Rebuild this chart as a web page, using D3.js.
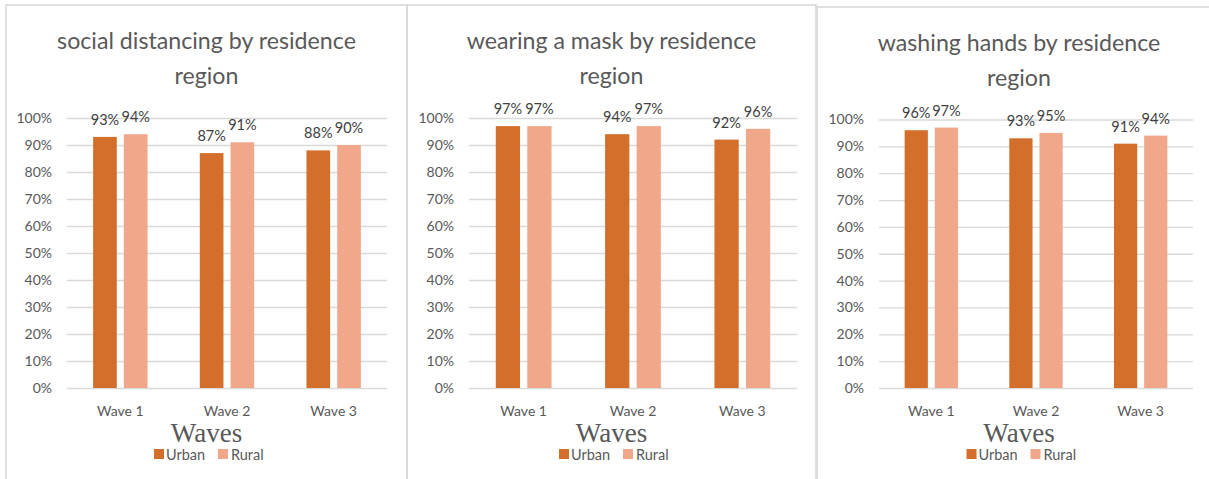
<!DOCTYPE html>
<html><head><meta charset="utf-8">
<script src="https://cdn.jsdelivr.net/npm/d3@7"></script>
<style>body{margin:0;background:#fff} svg text{font-family:Lato,"Open Sans",sans-serif}</style>
</head><body><svg id="c" width="1209" height="479"></svg>
<script>
// ---- data ----
const categories = ["Wave 1", "Wave 2", "Wave 3"];
const seriesNames = ["Urban", "Rural"];
const titleLines = [
  ["social distancing by residence", "region"],
  ["wearing a mask by residence", "region"],
  ["washing hands by residence", "region"]
];
const socialUrban = [0.93, 0.87, 0.88];
const socialRural = [0.94, 0.91, 0.90];
const maskUrban = [0.97, 0.94, 0.92];
const maskRural = [0.97, 0.97, 0.96];
const handsUrban = [0.96, 0.93, 0.91];
const handsRural = [0.97, 0.95, 0.94];
const yTicks = [0, 0.1, 0.2, 0.3, 0.4, 0.5, 0.6, 0.7, 0.8, 0.9, 1.0];
const xAxisTitle = "Waves";

const panelData = [
  [socialUrban, socialRural],
  [maskUrban, maskRural],
  [handsUrban, handsRural]
];

// ---- layout ----
const colors = ["#D36F2B", "#F1A88A"];
const layout = [
  {bx: 6, by: 5, bw: 401, x0: 67, x1: 387, yTop: 118, dy: 0},
  {bx: 407, by: 5, bw: 409, x0: 469, x1: 797, yTop: 118, dy: 0},
  {bx: 817, by: 7, bw: 404, x0: 879, x1: 1193, yTop: 119.5, dy: 2}
];
const yBottom = 388;

const svg = d3.select("#c");

layout.forEach((L, i) => {
  const cx = L.bx + L.bw / 2;
  const g = svg.append("g");

  g.append("rect").attr("x", L.bx).attr("y", L.by).attr("width", L.bw).attr("height", 520)
    .attr("fill", "none").attr("stroke", "#d9d9d9").attr("stroke-width", 1.6);

  // title
  titleLines[i].forEach((t, k) => {
    g.append("text").attr("x", cx).attr("y", 49 + L.dy + k * 35)
      .attr("text-anchor", "middle").attr("font-size", 23.2).attr("fill", "#595959").text(t);
  });

  const y = d3.scaleLinear().domain([0, 1]).range([yBottom, L.yTop]);
  const x = d3.scaleBand().domain(categories).range([L.x0, L.x1])
    .paddingInner(0.49).paddingOuter(0.245);
  const xs = d3.scaleBand().domain(seriesNames).range([0, x.bandwidth()]).paddingInner(0.23);

  // y axis with gridlines
  const ya = g.append("g").attr("transform", `translate(${L.x0},0)`)
    .call(d3.axisLeft(y).tickValues(yTicks).tickFormat(d3.format(".0%"))
      .tickSize(-(L.x1 - L.x0)).tickPadding(15));
  ya.select(".domain").remove();
  ya.selectAll(".tick line").attr("stroke", "#d9d9d9").attr("stroke-width", 1.3);
  ya.selectAll(".tick text").attr("fill", "#595959").attr("font-size", 14)
    .style("font-family", "Lato");

  // bars
  seriesNames.forEach((s, si) => {
    const vals = panelData[i][si];
    g.selectAll(null).data(categories).enter().append("rect")
      .attr("x", c => x(c) + xs(s))
      .attr("y", (c, ci) => y(vals[ci]))
      .attr("width", xs.bandwidth())
      .attr("height", (c, ci) => yBottom - y(vals[ci]))
      .attr("fill", colors[si]);
    g.selectAll(null).data(categories).enter().append("text")
      .attr("x", c => x(c) + xs(s) + xs.bandwidth() / 2)
      .attr("y", (c, ci) => y(vals[ci]) - 12)
      .attr("text-anchor", "middle").attr("font-size", 14.5).attr("fill", "#404040")
      .text((c, ci) => d3.format(".0%")(vals[ci]));
  });

  // x axis
  const xa = g.append("g").attr("transform", `translate(0,${yBottom})`)
    .call(d3.axisBottom(x).tickSize(0).tickPadding(18));
  xa.select(".domain").remove();
  xa.selectAll(".tick text").attr("fill", "#595959").attr("font-size", 14)
    .style("font-family", "Lato");

  // axis title
  g.append("text").attr("x", cx).attr("y", 442).attr("text-anchor", "middle")
    .attr("font-size", 27).attr("fill", "#595959")
    .style("font-family", "'Liberation Serif','Times New Roman',serif").text(xAxisTitle);

  // legend
  const legOff = [[-52.5, -40.5], [11.5, 24.5]];
  seriesNames.forEach((s, si) => {
    g.append("rect").attr("x", cx + legOff[si][0]).attr("y", 449).attr("width", 10).attr("height", 10)
      .attr("fill", colors[si]);
    g.append("text").attr("x", cx + legOff[si][1]).attr("y", 460).attr("font-size", 14.5)
      .attr("fill", "#595959").text(s);
  });
});
</script></body></html>
